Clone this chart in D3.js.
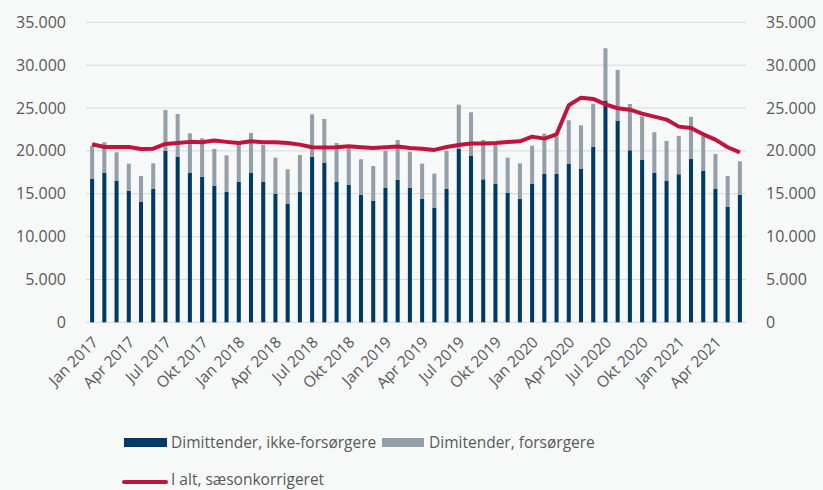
<!DOCTYPE html>
<html>
<head>
<meta charset="utf-8">
<script src="https://cdn.jsdelivr.net/npm/d3@7"></script>
<style>
  body { margin: 0; background: #f7f8f8; }
  svg { display: block; font-family: "Open Sans", sans-serif; }
</style>
</head>
<body>
<svg id="chart" width="823" height="490"></svg>
<script>
// månedsnavne (kun hver tredje vises på aksen)
const monthNames = ["Jan", "Feb", "Mar", "Apr", "Maj", "Jun", "Jul", "Aug", "Sep", "Okt", "Nov", "Dec"];
const months = d3.range(54).map(i => monthNames[i % 12] + " " + (2017 + Math.floor(i / 12)));

// Dimittender, ikke-forsørgere
const ikkeForsorgere = [
  16720, 17420, 16490, 15360, 14040, 15560, 19990, 19330, 17420, 16960, 15950, 15210,
  16370, 17420, 16370, 15010, 13850, 15210, 19290, 18630, 16370, 16020, 14900, 14160,
  15670, 16610, 15710, 14430, 13340, 15560, 20260, 19450, 16680, 16140, 15090, 14430,
  16140, 17310, 17310, 18510, 17890, 20460, 25860, 23530, 20070, 18940, 17420, 16530,
  17270, 19100, 17700, 15600, 13460, 14900
];

// Dimitender, forsørgere
const forsorgere = [
  3850, 3580, 3340, 3150, 3030, 2990, 4780, 4980, 4630, 4510, 4270, 4270,
  4430, 4670, 4330, 4200, 4000, 4310, 4980, 5090, 4550, 4280, 4120, 4080,
  4360, 4660, 4190, 4080, 4010, 4430, 5130, 5050, 4590, 4550, 4120, 4120,
  4470, 4700, 4390, 5060, 5090, 5040, 6110, 5910, 5400, 5090, 4750, 4630,
  4470, 4860, 4000, 4040, 3610, 3880
];

// I alt, sæsonkorrigeret
const iAlt = [
  20770, 20460, 20460, 20460, 20220, 20260, 20810, 20920, 21050, 21000, 21200, 21050,
  20920, 21120, 21000, 21000, 20920, 20730, 20420, 20380, 20420, 20530, 20420, 20340,
  20420, 20500, 20340, 20260, 20110, 20450, 20690, 20850, 20850, 20920, 21040, 21120,
  21660, 21430, 21930, 25320, 26210, 26060, 25430, 24970, 24810, 24350, 24000, 23650,
  22830, 22670, 21930, 21310, 20420, 19830
];

const yTicks = [0, 5000, 10000, 15000, 20000, 25000, 30000, 35000];

const navy = "#003a66", grey = "#959fa7", red = "#c0143c", textCol = "#595959";

const svg = d3.select("#chart");
const plotLeft = 86, plotRight = 746, plotTop = 22.3, plotBottom = 322.3;

const x = d3.scaleBand().domain(months).range([plotLeft, plotRight]).paddingInner(0.67).paddingOuter(0.335);
const y = d3.scaleLinear().domain([0, 35000]).range([plotBottom, plotTop]);
const fmt = v => d3.format(",")(v).replace(/,/g, ".");

// gitterlinjer
svg.append("g").selectAll("line").data(yTicks).join("line")
  .attr("x1", plotLeft).attr("x2", plotRight)
  .attr("y1", d => y(d)).attr("y2", d => y(d))
  .attr("stroke", "#d9d9d9").attr("stroke-width", 1);

// y-akser i begge sider
const yLeft = svg.append("g").attr("transform", `translate(${plotLeft - 20},0)`)
  .call(d3.axisLeft(y).tickValues(yTicks).tickFormat(fmt).tickSize(0).tickPadding(0));
const yRight = svg.append("g").attr("transform", `translate(${plotRight + 20},0)`)
  .call(d3.axisRight(y).tickValues(yTicks).tickFormat(fmt).tickSize(0).tickPadding(0));
[yLeft, yRight].forEach(a => {
  a.select(".domain").remove();
  a.selectAll("text").attr("fill", textCol).style("font-size", "16px").style("font-family", "Open Sans");
});

// stablede søjler
const stackData = months.map((m, i) => ({ m, a: ikkeForsorgere[i], b: forsorgere[i] }));
const series = d3.stack().keys(["a", "b"])(stackData);
const colors = { a: navy, b: grey };

svg.append("g").selectAll("g").data(series).join("g")
  .attr("fill", d => colors[d.key])
  .selectAll("rect").data(d => d).join("rect")
  .attr("x", d => x(d.data.m))
  .attr("width", x.bandwidth())
  .attr("y", d => y(d[1]))
  .attr("height", d => y(d[0]) - y(d[1]));

// linje
const line = d3.line()
  .x((d, i) => x(months[i]) + x.bandwidth() / 2)
  .y(d => y(d));
svg.append("path").datum(iAlt)
  .attr("d", line)
  .attr("fill", "none")
  .attr("stroke", red)
  .attr("stroke-width", 4)
  .attr("stroke-linejoin", "round");

// x-akse
const xAxis = svg.append("g").attr("transform", `translate(0,${plotBottom})`)
  .call(d3.axisBottom(x).tickValues(months.filter((m, i) => i % 3 === 0)).tickSize(0));
xAxis.select(".domain").remove();
xAxis.selectAll("text")
  .attr("fill", textCol)
  .style("font-size", "15.5px")
  .style("font-family", "Open Sans")
  .attr("text-anchor", "end")
  .attr("transform", "translate(-4,10) rotate(-45)")
  .attr("dy", "0.6em")
  .attr("y", 6)
  .attr("x", 0);

// signaturforklaring
const legend = svg.append("g").style("font-size", "15.5px").attr("fill", textCol);
legend.append("rect").attr("x", 124).attr("y", 438).attr("width", 43).attr("height", 9).attr("fill", navy);
legend.append("text").attr("x", 171).attr("y", 448).text("Dimittender, ikke-forsørgere");
legend.append("rect").attr("x", 382).attr("y", 438).attr("width", 42).attr("height", 9).attr("fill", grey);
legend.append("text").attr("x", 429).attr("y", 448).text("Dimitender, forsørgere");
legend.append("line").attr("x1", 124).attr("x2", 166).attr("y1", 482).attr("y2", 482)
  .attr("stroke", red).attr("stroke-width", 4).attr("stroke-linecap", "round");
legend.append("text").attr("x", 171).attr("y", 485).text("I alt, sæsonkorrigeret");
</script>
</body>
</html>
